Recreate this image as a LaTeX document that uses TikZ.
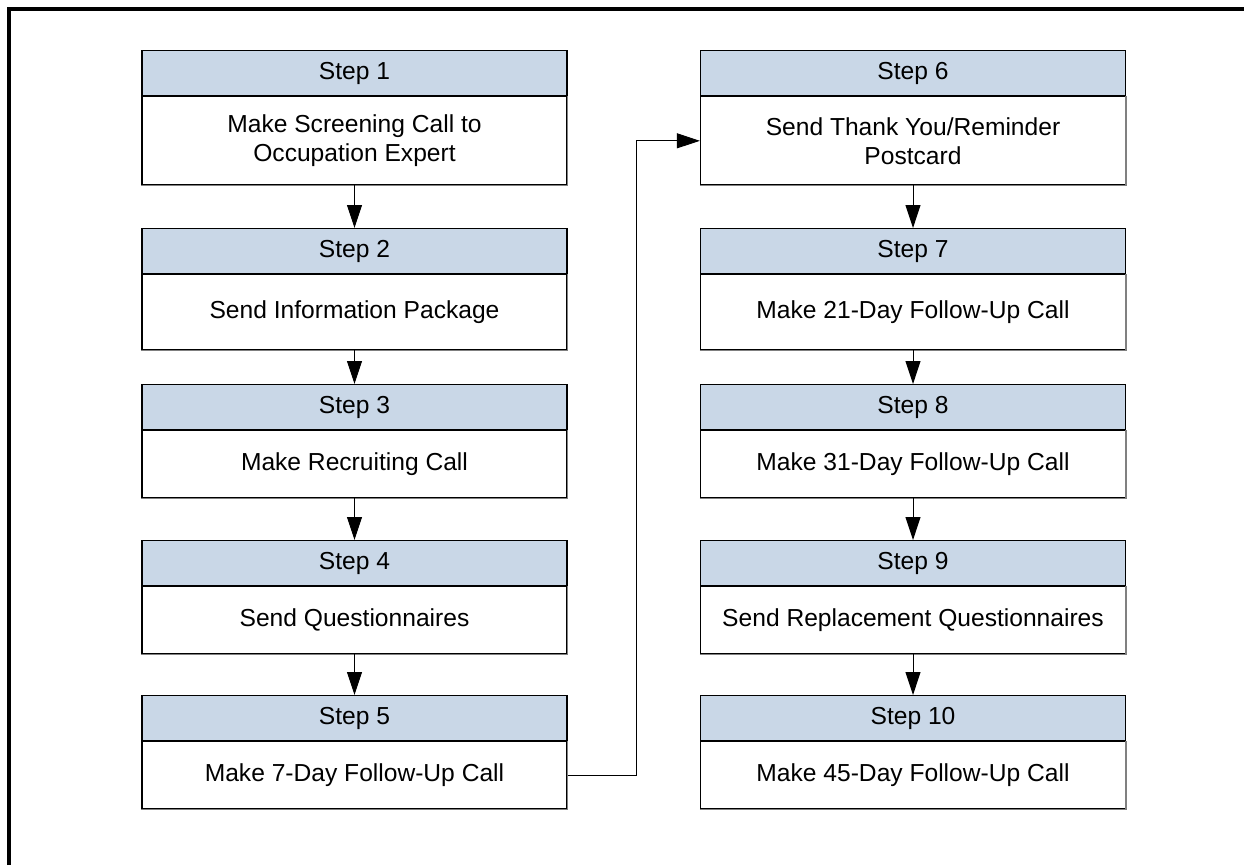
\documentclass[tikz,border=0pt]{standalone}
\usepackage{fontspec}
\setmainfont{Liberation Sans}
\usetikzlibrary{arrows.meta}
\definecolor{headfill}{HTML}{C9D7E7}
\definecolor{edgegray}{HTML}{808080}
\tikzset{
  stepfont/.style={font=\fontsize{24.6}{29}\selectfont},
  headbox/.style={draw=black, line width=1.2pt, fill=headfill, rectangle,
    minimum width=425pt, minimum height=45pt, inner sep=0pt, anchor=north, stepfont},
  bodybox/.style={draw=black, line width=1.2pt, fill=white, rectangle,
    minimum width=425pt, inner sep=0pt, anchor=north, align=center, stepfont},
  flow/.style={line width=1pt, -{Triangle[length=23pt,width=15pt]}},
  shade/.style={draw=edgegray, line width=1.6pt}
}
\begin{document}
\begin{tikzpicture}[x=1pt, y=-1pt]
\useasboundingbox (0,0) rectangle (1244,865);
% outer frame (top and left edges)
\draw[line width=4pt] (9,865) -- (9,9) -- (1244,9);

% left column
\node[headbox] (h1) at (354.5,50) {Step 1};
\node[bodybox, minimum height=88pt] (b1) at (h1.south) {Make Screening Call to\\Occupation Expert};
\node[headbox] (h2) at (354.5,228) {Step 2};
\node[bodybox, minimum height=75pt] (b2) at (h2.south) {Send Information Package};
\node[headbox] (h3) at (354.5,384) {Step 3};
\node[bodybox, minimum height=67pt] (b3) at (h3.south) {Make Recruiting Call};
\node[headbox] (h4) at (354.5,540) {Step 4};
\node[bodybox, minimum height=67pt] (b4) at (h4.south) {Send Questionnaires};
\node[headbox] (h5) at (354.5,695) {Step 5};
\node[bodybox, minimum height=67pt] (b5) at (h5.south) {Make 7-Day Follow-Up Call};

% right column
\node[headbox] (h6) at (913,50) {Step 6};
\node[bodybox, minimum height=88pt] (b6) at (h6.south) {Send Thank You/Reminder\\Postcard};
\node[headbox] (h7) at (913,228) {Step 7};
\node[bodybox, minimum height=75pt] (b7) at (h7.south) {Make 21-Day Follow-Up Call};
\node[headbox] (h8) at (913,384) {Step 8};
\node[bodybox, minimum height=67pt] (b8) at (h8.south) {Make 31-Day Follow-Up Call};
\node[headbox] (h9) at (913,540) {Step 9};
\node[bodybox, minimum height=67pt] (b9) at (h9.south) {Send Replacement Questionnaires};
\node[headbox] (h10) at (913,695) {Step 10};
\node[bodybox, minimum height=67pt] (b10) at (h10.south) {Make 45-Day Follow-Up Call};

% grey lower/right edges of the step boxes
\foreach \b in {b1,b2,b3,b4,b5,b6,b7,b8,b9,b10}{
  \draw[shade] (\b.south west) -- (\b.south east) -- (\b.north east);
}

% connectors
\foreach \a/\c in {b1/h2,b2/h3,b3/h4,b4/h5,b6/h7,b7/h8,b8/h9,b9/h10}{
  \draw[flow] (\a.south) -- (\c.north);
}
\coordinate (turn) at (636,0);
\draw[flow] (b5.east) -- (turn |- b5.east) -- (turn |- b6.west) -- (b6.west);
\end{tikzpicture}
\end{document}
